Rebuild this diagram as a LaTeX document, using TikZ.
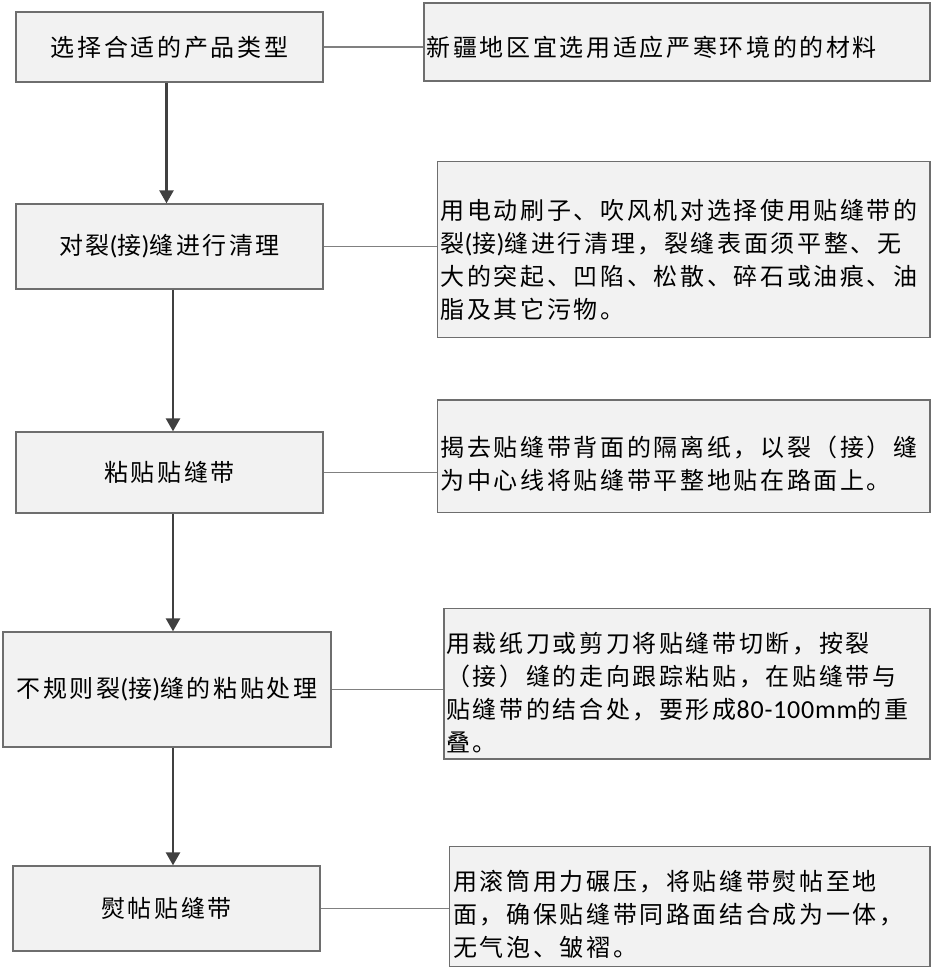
\documentclass[tikz,border=0pt]{standalone}
\usepackage{fontspec}
\setmainfont{Carlito}
\newfontfamily\cjk[LetterSpace=11]{Noto Sans CJK SC}
\newfontfamily\latf[LetterSpace=3]{Carlito}
\newcommand\lt[1]{{\latf\fontsize{26bp}{32.8bp}\selectfont #1}}
\usetikzlibrary{arrows.meta}
\definecolor{boxfill}{HTML}{F2F2F2}
\definecolor{boxline}{HTML}{6E6E6E}
\definecolor{connline}{HTML}{808080}
\definecolor{arrline}{HTML}{404040}
\begin{document}
\begin{tikzpicture}[x=1bp,y=-1bp,
  box/.style={draw=boxline, line width=1.3bp, fill=boxfill, inner sep=0pt,
    font=\cjk\fontsize{24bp}{32.8bp}\selectfont},
  rtxt/.style={inner sep=0pt, align=left, anchor=west,
    font=\cjk\fontsize{24bp}{32.8bp}\selectfont},
  conn/.style={draw=connline, line width=1.2bp},
  arr/.style={draw=arrline, line width=2.5bp, -{Triangle[width=14bp,length=13bp]}}]
\useasboundingbox (0,0) rectangle (933,971);

% left process boxes
\node[box, minimum width=307bp, minimum height=70bp] (L1) at (169.5,47) {选择合适的产品类型};
\node[box, minimum width=307bp, minimum height=85bp] (L2) at (169.5,246.5) {对裂\lt{(}接\lt{)}缝进行清理};
\node[box, minimum width=307bp, minimum height=81bp] (L3) at (169.5,472.5) {粘贴贴缝带};
\node[box, minimum width=328bp, minimum height=115bp] (L4) at (167,689.5) {不规则裂\lt{(}接\lt{)}缝的粘贴处理};
\node[box, minimum width=307bp, minimum height=85bp] (L5) at (166.5,908.5) {熨帖贴缝带};

% right note boxes
\node[box, minimum width=506bp, minimum height=78bp] (R1) at (677,42) {};
\node[box, minimum width=492.7bp, minimum height=175.6bp] (R2) at (683.7,249.5) {};
\node[box, minimum width=492.7bp, minimum height=112.7bp] (R3) at (683.7,456.3) {};
\node[box, minimum width=486bp, minimum height=150.7bp] (R4) at (687,683.7) {};
\node[box, minimum width=480.7bp, minimum height=120bp] (R5) at (689.7,906.7) {};

\node[rtxt] (R1t) at (426.5,47) {新疆地区宜选用适应严寒环境的的材料};
\node[rtxt] (R2t) at (440.5,260) {用电动刷子、吹风机对选择使用贴缝带的\\
裂\lt{(}接\lt{)}缝进行清理，裂缝表面须平整、无\\
大的突起、凹陷、松散、碎石或油痕、油\\
脂及其它污物。};
\node[rtxt] (R3t) at (440.5,463.3) {揭去贴缝带背面的隔离纸，以裂（接）缝\\
为中心线将贴缝带平整地贴在路面上。};
\node[rtxt] (R4t) at (446,692.5) {用裁纸刀或剪刀将贴缝带切断，按裂\\
（接）缝的走向跟踪粘贴，在贴缝带与\\
贴缝带的结合处，要形成\lt{80-100mm}的重\\
叠。};
\node[rtxt] (R5t) at (453,914.5) {用滚筒用力碾压，将贴缝带熨帖至地\\
面，确保贴缝带同路面结合成为一体，\\
无气泡、皱褶。};

% connectors
\draw[conn] (L1.east) -- (L1.east -| R1.west);
\draw[conn] (L2.east) -- (L2.east -| R2.west);
\draw[conn] (L3.east) -- (L3.east -| R3.west);
\draw[conn] (L4.east) -- (L4.east -| R4.west);
\draw[conn] (L5.east) -- (L5.east -| R5.west);

% arrows
\draw[arr] ([xshift=-3bp]L1.south) -- ([xshift=-3bp]L1.south |- L2.north);
\draw[arr] ([xshift=3.5bp]L2.south) -- ([xshift=3.5bp]L2.south |- L3.north);
\draw[arr] ([xshift=3.5bp]L3.south) -- ([xshift=3.5bp]L3.south |- L4.north);
\draw[arr] ([xshift=6bp]L4.south) -- ([xshift=6bp]L4.south |- L5.north);
\end{tikzpicture}
\end{document}
